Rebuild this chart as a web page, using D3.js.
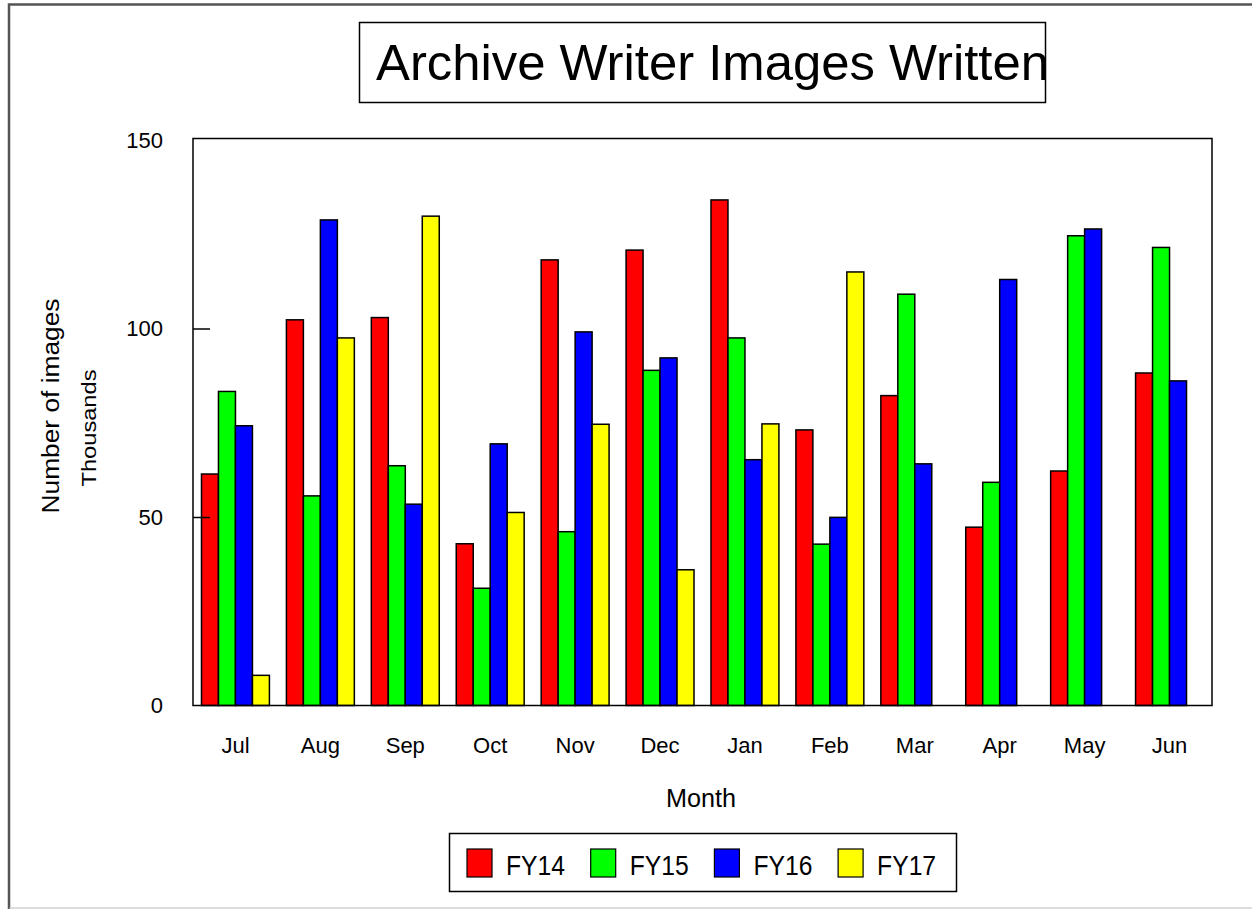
<!DOCTYPE html>
<html>
<head>
<meta charset="utf-8">
<title>Archive Writer Images Written</title>
<script src="https://cdn.jsdelivr.net/npm/d3@7"></script>
<style>
    html, body { margin: 0; padding: 0; background: #fff; }
    #chart { width: 1252px; height: 909px; }
    text { font-family: 'Liberation Sans', Arial, sans-serif; fill: #000; }
</style>
</head>
<body>
<div id="chart"><svg></svg></div>
<script>
// 月份
const months = ['Jul', 'Aug', 'Sep', 'Oct', 'Nov', 'Dec', 'Jan', 'Feb', 'Mar', 'Apr', 'May', 'Jun'];
// 系列
const seriesNames = ['FY14', 'FY15', 'FY16', 'FY17'];
const fy14 = [61.4, 102.3, 102.9, 42.9, 118.2, 120.8, 134.1, 73.1, 82.2, 47.3, 62.2, 88.2];
const fy15 = [83.3, 55.6, 63.6, 31.1, 46.1, 88.9, 97.5, 42.8, 109.1, 59.2, 124.6, 121.5];
const fy16 = [74.2, 128.8, 53.4, 69.4, 99.1, 92.2, 65.2, 49.9, 64.1, 113.0, 126.4, 86.1];
const fy17 = [8.0, 97.5, 129.8, 51.2, 74.6, 36.0, 74.7, 115.0, null, null, null, null];
const yTicks = [0, 50, 100, 150];

class BarChart {
    constructor(params) {
        this.$el = params.el;
        this.svg = null;
        this.realW = 1252;
        this.realH = 909;
        this.plot = { left: 193, right: 1212, top: 140, bottom: 705.5 };
        this.colors = ['#ff0000', '#00ff00', '#0000ff', '#ffff00'];
        this.init();
    }
    init() {
        this.renderSvg();
        this.buildScales();
        this.renderFrame();
        this.renderTitle();
        this.renderBars();
        this.renderAxis();
        this.renderLegend();
    }
    renderSvg() {
        this.svg = d3.select(this.$el)
            .select('svg')
            .attr('width', this.realW)
            .attr('height', this.realH);
    }
    buildScales() {
        let p = this.plot;
        this.x0 = d3.scaleBand()
            .domain(months)
            .range([p.left, p.right])
            .paddingInner(0.2)
            .paddingOuter(0.1);
        this.x1 = d3.scaleBand()
            .domain(seriesNames)
            .range([0, this.x0.bandwidth()]);
        this.y = d3.scaleLinear()
            .domain([0, 150])
            .range([p.bottom, p.top]);
    }
    // 外框
    renderFrame() {
        this.svg.append('path')
            .attr('d', `M9 ${this.realH} L9 4.5 L${this.realW} 4.5`)
            .attr('fill', 'none')
            .attr('stroke', '#555')
            .attr('stroke-width', 2.5);
        this.svg.append('line')
            .attr('x1', 9).attr('x2', this.realW)
            .attr('y1', 908).attr('y2', 908)
            .attr('stroke', '#bbb');
    }
    renderTitle() {
        this.svg.append('rect')
            .attr('x', 359.5).attr('y', 22.5)
            .attr('width', 686).attr('height', 80)
            .attr('fill', '#fff')
            .attr('stroke', '#000')
            .attr('stroke-width', 1.5);
        this.svg.append('text')
            .attr('x', 376).attr('y', 80)
            .attr('font-size', 50)
            .attr('textLength', 673)
            .attr('lengthAdjust', 'spacingAndGlyphs')
            .text('Archive Writer Images Written');
    }
    renderBars() {
        let _self = this;
        let rows = [fy14, fy15, fy16, fy17];
        let groups = this.svg.append('g')
            .attr('class', 'bars')
            .selectAll('g')
            .data(months)
            .join('g')
            .attr('transform', d => `translate(${this.x0(d)},0)`);
        groups.selectAll('rect')
            .data((m, i) => seriesNames.map((s, k) => ({ s: s, k: k, v: rows[k][i] })).filter(d => d.v !== null))
            .join('rect')
            .attr('x', d => _self.x1(d.s))
            .attr('y', d => _self.y(d.v))
            .attr('width', this.x1.bandwidth())
            .attr('height', d => _self.y(0) - _self.y(d.v))
            .attr('fill', d => _self.colors[d.k])
            .attr('stroke', '#000')
            .attr('stroke-width', 1.5);
        // 绘图区边框
        let p = this.plot;
        this.svg.append('rect')
            .attr('x', p.left).attr('y', p.top - 1.5)
            .attr('width', p.right - p.left)
            .attr('height', p.bottom - p.top + 1.5)
            .attr('fill', 'none')
            .attr('stroke', '#000')
            .attr('stroke-width', 1.5);
    }
    renderAxis() {
        let p = this.plot;
        let yAxis = this.svg.append('g')
            .attr('transform', `translate(${p.left},0)`)
            .call(d3.axisLeft(this.y).tickValues(yTicks).tickSize(-17).tickPadding(30).tickFormat(d3.format('d')));
        yAxis.select('.domain').remove();
        // 0 和 150 与边框重合, 不画刻度线
        yAxis.selectAll('.tick')
            .filter(d => d === 0 || d === 150)
            .select('line')
            .remove();
        yAxis.selectAll('line').attr('stroke', '#000').attr('stroke-width', 1.5);
        yAxis.selectAll('text').attr('font-size', 22).attr('fill', '#222');

        let xAxis = this.svg.append('g')
            .attr('transform', `translate(0,${p.bottom})`)
            .call(d3.axisBottom(this.x0).tickSize(0).tickPadding(32));
        xAxis.select('.domain').remove();
        xAxis.selectAll('text').attr('font-size', 22).attr('fill', '#222');

        // 轴标题
        this.svg.append('text')
            .attr('transform', 'translate(59,406) rotate(-90)')
            .attr('text-anchor', 'middle')
            .attr('font-size', 23)
            .attr('textLength', 215)
            .attr('lengthAdjust', 'spacingAndGlyphs')
            .text('Number of images');
        this.svg.append('text')
            .attr('transform', 'translate(96,428) rotate(-90)')
            .attr('text-anchor', 'middle')
            .attr('font-size', 20)
            .attr('textLength', 117)
            .attr('lengthAdjust', 'spacingAndGlyphs')
            .text('Thousands');
        this.svg.append('text')
            .attr('x', 701).attr('y', 807)
            .attr('text-anchor', 'middle')
            .attr('font-size', 26)
            .attr('textLength', 70)
            .attr('lengthAdjust', 'spacingAndGlyphs')
            .text('Month');
    }
    renderLegend() {
        let _self = this;
        this.svg.append('rect')
            .attr('x', 449.5).attr('y', 833.5)
            .attr('width', 507).attr('height', 58)
            .attr('fill', '#fff')
            .attr('stroke', '#000')
            .attr('stroke-width', 1.5);
        let items = this.svg.append('g')
            .selectAll('g')
            .data(seriesNames)
            .join('g')
            .attr('transform', (d, i) => `translate(${467 + i * 123.7},849)`);
        items.append('rect')
            .attr('width', 25).attr('height', 28)
            .attr('fill', (d, i) => _self.colors[i])
            .attr('stroke', '#000')
            .attr('stroke-width', 1.2);
        items.append('text')
            .attr('x', 39).attr('y', 26)
            .attr('font-size', 28)
            .attr('textLength', 59)
            .attr('lengthAdjust', 'spacingAndGlyphs')
            .text(d => d);
    }
}

new BarChart({ el: document.getElementById('chart') });
</script>
</body>
</html>
